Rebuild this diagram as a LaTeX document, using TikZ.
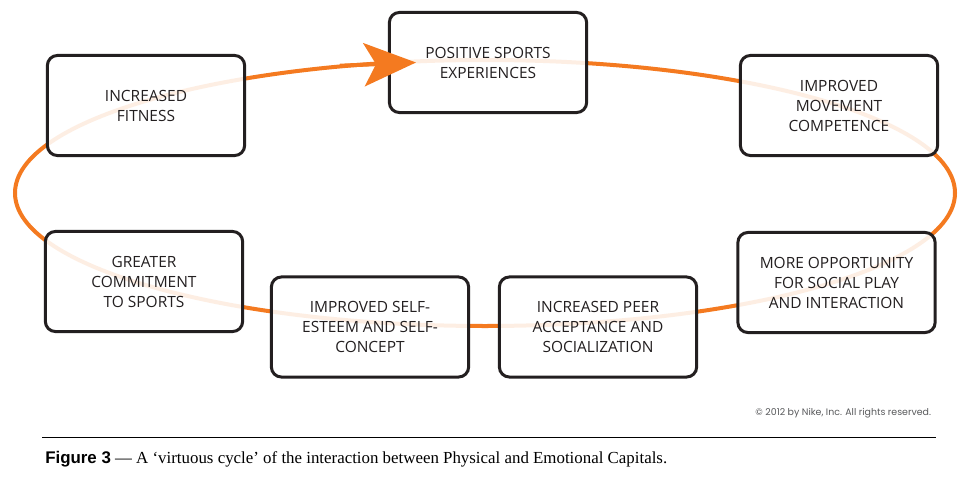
\documentclass[tikz,border=0pt]{standalone}
\usepackage{fontspec}
\usetikzlibrary{arrows.meta}
\newfontfamily\boxfont{Open Sans}
\newfontfamily\notefont{Poppins}
\newfontfamily\capsans{Liberation Sans}
\newfontfamily\capserif{Liberation Serif}
\definecolor{cycleorange}{HTML}{F47A20}
\definecolor{boxgray}{HTML}{231F20}
\definecolor{notegray}{HTML}{58595B}

\begin{document}
\begin{tikzpicture}[x=0.025cm, y=-0.025cm,
    stage/.style={draw=boxgray, line width=0.075cm, rounded corners=0.25cm, fill=white, fill opacity=0.88, text opacity=1,
        minimum width=4.93cm, minimum height=2.5cm, align=center, text=boxgray, text depth=-0.12cm,
        font=\boxfont\fontsize{11}{14.2}\selectfont},
    cycleline/.style={draw=cycleorange, line width=0.1cm}]
    \useasboundingbox (0,0) rectangle (973,486);
        \draw[cycleline] (485,193) ellipse [x radius=470, y radius=133];

        \node[stage] (fitness) at (146,105.5) {INCREASED\\FITNESS};
        \node[stage] (positive) at (488,62.5) {POSITIVE SPORTS\\EXPERIENCES};
        \node[stage] (movement) at (839,105.5) {IMPROVED\\MOVEMENT\\COMPETENCE};
        \node[stage] (social) at (836.5,282.5) {MORE OPPORTUNITY\\FOR SOCIAL PLAY\\AND INTERACTION};
        \node[stage] (peer) at (598,327) {INCREASED PEER\\ACCEPTANCE AND\\SOCIALIZATION};
        \node[stage] (esteem) at (370,327) {IMPROVED SELF-\\ESTEEM AND SELF-\\CONCEPT};
        \node[stage] (commitment) at (144,281.5) {GREATER\\COMMITMENT\\TO SPORTS};

        \coordinate (tail) at (340,65.7);
        \coordinate (tip) at (416,62.5);
        \draw[cycleline, -{Stealth[length=1.3cm, width=1.08cm, inset=0.3cm]}] (tail) -- (tip);

        \node[anchor=east, text=notegray, font=\notefont\fontsize{6.7}{8}\selectfont] (copyright) at (936,413) {© 2012 by Nike, Inc. All rights reserved.};
        \coordinate (ruleleft) at (42,437);
        \coordinate (ruleright) at (936,437);
        \draw[line width=0.025cm] (ruleleft) -- (ruleright);
        \node[anchor=base west, inner sep=0pt, font=\capserif\fontsize{12}{14}\selectfont] (caption) at (45,463) {{\capsans\bfseries Figure 3} — A ‘virtuous cycle’ of the interaction between Physical and Emotional Capitals.};
    \end{tikzpicture}
\end{document}
